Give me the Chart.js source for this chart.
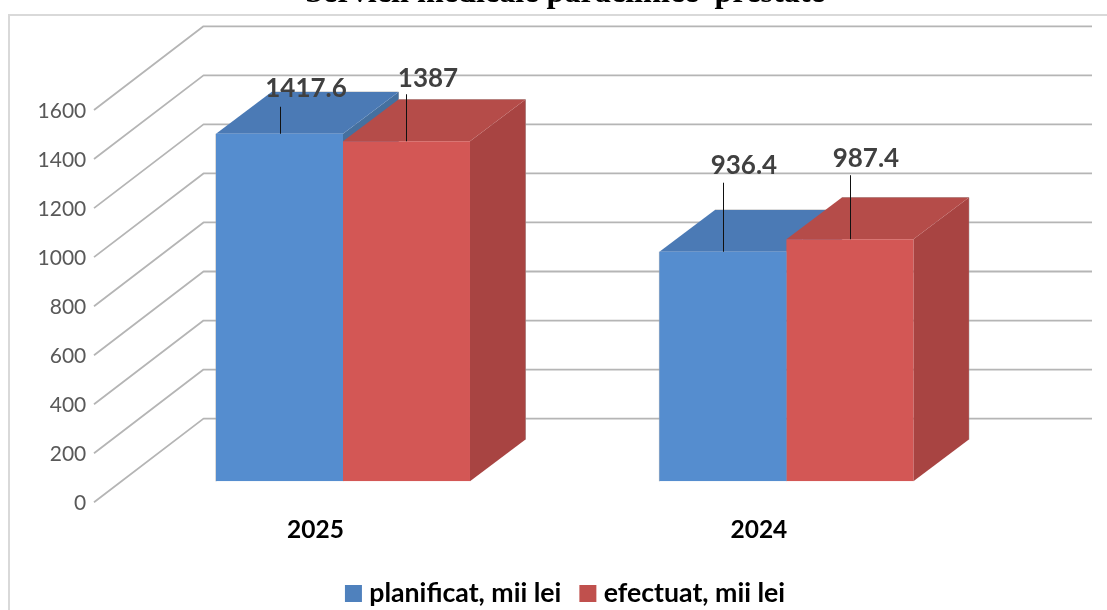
<!DOCTYPE html>
<html><head><meta charset="utf-8">
<style>html,body{margin:0;padding:0;background:#fff;overflow:hidden;width:1107px;height:610px}canvas{display:block}</style>
<script src="https://cdn.jsdelivr.net/npm/chart.js@4"></script>
</head><body><canvas id="c" width="1130" height="610"></canvas>
<script>
const categories = ["2025", "2024"];
const planificat = [1417.6, 936.4];
const efectuat = [1387, 987.4];
const seriesNames = ["planificat, mii lei", "efectuat, mii lei"];
const yTicks = [0, 200, 400, 600, 800, 1000, 1200, 1400, 1600];
const titleText = "Servicii medicale paraclinice  prestate";

const face = [
  {front:"#558dcf", top:"#4b7ab5", side:"#45709f", legend:"#4f81bd"},
  {front:"#d35755", top:"#b54c49", side:"#a84442", legend:"#c0504d"}
];
const labelOff = [[[26.5,-45],[21,-86]], [[21.5,-63],[16,-81]]];
const leaderLen = [[27,69],[47,64]];
const depth = {bx:55.5, by:41.7};
const grid = {frontX:94, backX:203.5, rightX:1092, frontDy:21, backDy:-62.7};
const edgeColor = "rgba(165,165,165,0.8)";

function poly(ctx, pts, fill){
  ctx.beginPath();
  pts.forEach((p,i)=> i?ctx.lineTo(p[0],p[1]):ctx.moveTo(p[0],p[1]));
  ctx.closePath();
  ctx.fillStyle = fill; ctx.fill();
}
function swatch(color){
  const c = document.createElement("canvas");
  c.width = 35; c.height = 17;
  const x = c.getContext("2d");
  x.fillStyle = color; x.fillRect(12,0,17,17);
  return c;
}
const threeD = {
  id:"threeD",
  beforeDraw(chart){
    const ctx = chart.ctx;
    ctx.save();
    ctx.strokeStyle="#d9d9d9"; ctx.lineWidth=2;
    ctx.strokeRect(9,15,1200,700);
    ctx.restore();
  },
  beforeDatasetsDraw(chart){
    const ctx = chart.ctx, y = chart.scales.y;
    ctx.save();
    ctx.strokeStyle="#b5b5b5"; ctx.lineWidth=1.8; ctx.lineJoin="round";
    yTicks.forEach(v=>{
      const p = y.getPixelForValue(v);
      ctx.beginPath();
      ctx.moveTo(grid.frontX, p+grid.frontDy);
      ctx.lineTo(grid.backX, p+grid.backDy);
      ctx.lineTo(grid.rightX, p+grid.backDy);
      ctx.stroke();
    });
    const base = y.getPixelForValue(0);
    [0,1].forEach(ds=>{
      chart.getDatasetMeta(ds).data.forEach(el=>{
        const l = el.x-el.width/2, r = el.x+el.width/2, t = el.y;
        const d = depth;
        ctx.strokeStyle = edgeColor; ctx.lineWidth = 1;
        ctx.beginPath();
        if(ds===0){ ctx.moveTo(l,base); ctx.lineTo(l,t); }
        ctx.moveTo(l+d.bx,t-d.by); ctx.lineTo(r+d.bx,t-d.by); ctx.lineTo(r+d.bx,base-d.by);
        ctx.stroke();
        poly(ctx, [[r,t],[r+d.bx,t-d.by],[r+d.bx,base-d.by],[r,base]], face[ds].side);
        poly(ctx, [[l,t],[l+d.bx,t-d.by],[r+d.bx,t-d.by],[r,t]], face[ds].top);
      });
    });
    ctx.restore();
  },
  afterDatasetsDraw(chart){
    const ctx = chart.ctx;
    ctx.save();
    [0,1].forEach(ds=>{
      const vals = chart.data.datasets[ds].data;
      chart.getDatasetMeta(ds).data.forEach((el,i)=>{
        ctx.strokeStyle="#111"; ctx.lineWidth=1;
        ctx.beginPath();
        const lx = Math.round(el.x)+0.5;
        ctx.moveTo(lx, el.y);
        ctx.lineTo(lx, el.y-leaderLen[ds][i]);
        ctx.stroke();
        ctx.fillStyle="#404040";
        ctx.font="bold 26px Lato";
        ctx.textAlign="center"; ctx.textBaseline="middle";
        ctx.fillText(String(vals[i]), el.x+labelOff[ds][i][0], el.y+labelOff[ds][i][1]);
      });
    });
    ctx.restore();
  }
};
Chart.defaults.animation = false;
new Chart(document.getElementById("c"), {
  type:"bar",
  plugins:[threeD],
  data:{
    labels:categories,
    datasets:[
      {label:seriesNames[0], data:planificat, backgroundColor:face[0].front, borderWidth:0},
      {label:seriesNames[1], data:efectuat, backgroundColor:face[1].front, borderWidth:0}
    ]
  },
  options:{
    responsive:false,
    animation:false,
    layout:{padding:{left:0,right:0,top:0,bottom:-7}},
    categoryPercentage:0.5728,
    barPercentage:1,
    scales:{
      x:{
        grid:{display:false}, border:{display:false},
        ticks:{color:"#000", font:{family:"Lato",size:24.5,weight:"bold"}, labelOffset:-27.5, padding:26.5, maxRotation:0},
        afterFit(s){ s.height = 81; }
      },
      y:{
        min:0,max:1600,
        grid:{display:false,drawTicks:false}, border:{display:false},
        ticks:{color:"#595959", stepSize:200, font:{family:"Lato",size:21}, labelOffset:22, padding:35, callback:v=>String(v)},
        afterFit(s){ s.width = 121.3; }
      },
      yRight:{
        type:"linear", position:"right", min:0, max:1600,
        grid:{display:false,drawTicks:false}, border:{display:false},
        ticks:{display:false},
        afterFit(s){ s.width = 121.9; }
      }
    },
    plugins:{
      title:{display:true,text:titleText,color:"#000",font:{family:"Liberation Serif",size:32.2,weight:"bold"},padding:{top:-26,bottom:76.4}},
      legend:{position:"bottom",labels:{color:"#000",font:{family:"Lato",size:26.7,weight:"bold"},usePointStyle:true,pointStyleWidth:11,boxHeight:17,padding:18,
        generateLabels(chart){
          return chart.data.datasets.map((d,i)=>({text:d.label,fillStyle:face[i].legend,strokeStyle:face[i].legend,lineWidth:0,datasetIndex:i,hidden:false,pointStyle:swatch(face[i].legend)}));
        }}},
      tooltip:{enabled:false}
    }
  }
});
</script></body></html>
